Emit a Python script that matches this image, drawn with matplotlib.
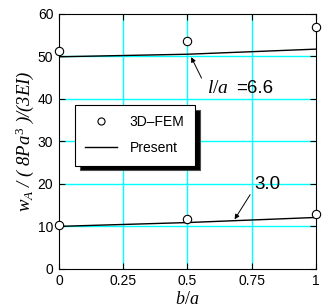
import matplotlib
matplotlib.use('Agg')
from matplotlib import pyplot as plt

plt.rcParams['font.family'] = 'Liberation Sans'
plt.rcParams['mathtext.fontset'] = 'custom'
plt.rcParams['mathtext.it'] = 'Liberation Serif:italic'
plt.rcParams['mathtext.rm'] = 'Liberation Serif'

# FEM points and present-theory lines for two l/a values
b_fem = [0, 0.5, 1]
fem_66 = [51.2, 53.5, 56.8]
fem_30 = [10.3, 11.8, 13.0]
b_line = [0, 0.5, 1]
present_66 = [49.9, 50.5, 51.7]
present_30 = [10.0, 10.9, 12.1]

fig = plt.figure(figsize=(3.29, 3.08), dpi=100)
ax = fig.add_axes([0.179, 0.127, 0.781, 0.828])

for v in [10, 20, 30, 40, 50]:
    ax.axhline(v, color='cyan', lw=1, zorder=0)
for v in [0.25, 0.5, 0.75]:
    ax.axvline(v, color='cyan', lw=1, zorder=0)

ax.plot(b_fem, fem_66, 'o', mfc='white', mec='black', ms=6, mew=0.8,
        clip_on=False, zorder=5, label='3D\u2013FEM')
ax.plot(b_line, present_66, '-', color='black', lw=1, label='Present')
ax.plot(b_fem, fem_30, 'o', mfc='white', mec='black', ms=6, mew=0.8,
        clip_on=False, zorder=5)
ax.plot(b_line, present_30, '-', color='black', lw=1)

ax.set_xlim(0, 1)
ax.set_ylim(0, 60)
ax.set_xticks([0, 0.25, 0.5, 0.75, 1])
ax.set_xticklabels(['0', '0.25', '0.5', '0.75', '1'])
ax.set_yticks([0, 10, 20, 30, 40, 50, 60])
ax.tick_params(direction='in', length=4, labelsize=10, top=True, right=True,
               pad=4)

ax.set_xlabel('$b/a$', fontsize=13, labelpad=2)
ax.set_ylabel(r'$w_A$ / ( 8$Pa^3$ )/(3$EI$)', fontsize=13.5, labelpad=1,
              family='Liberation Serif', style='italic')

ax.annotate('', xy=(0.51, 50.4), xytext=(0.56, 44.3),
            arrowprops=dict(arrowstyle='-|>', color='black', lw=0.7,
                            mutation_scale=7))
ax.text(0.575, 42.5, '$l/a$', fontsize=14, va='center')
ax.text(0.69, 42.5, '=6.6', fontsize=13.5, va='center')

ax.annotate('', xy=(0.678, 11.1), xytext=(0.75, 18.0),
            arrowprops=dict(arrowstyle='-|>', color='black', lw=0.7,
                            mutation_scale=7))
ax.text(0.76, 19.8, '3.0', fontsize=13.5, va='center')

leg = ax.legend(loc='upper left', bbox_to_anchor=(0.062, 0.643), fontsize=10,
                fancybox=False, edgecolor='black', framealpha=1,
                shadow={'ox': 3.5, 'oy': -3.5, 'facecolor': 'black', 'alpha': 1},
                borderpad=0.75, handlelength=2.3, labelspacing=0.85,
                handletextpad=0.9, borderaxespad=0, markerscale=0.85)
leg.get_frame().set_linewidth(0.8)

fig.savefig('out.png', dpi=100)
